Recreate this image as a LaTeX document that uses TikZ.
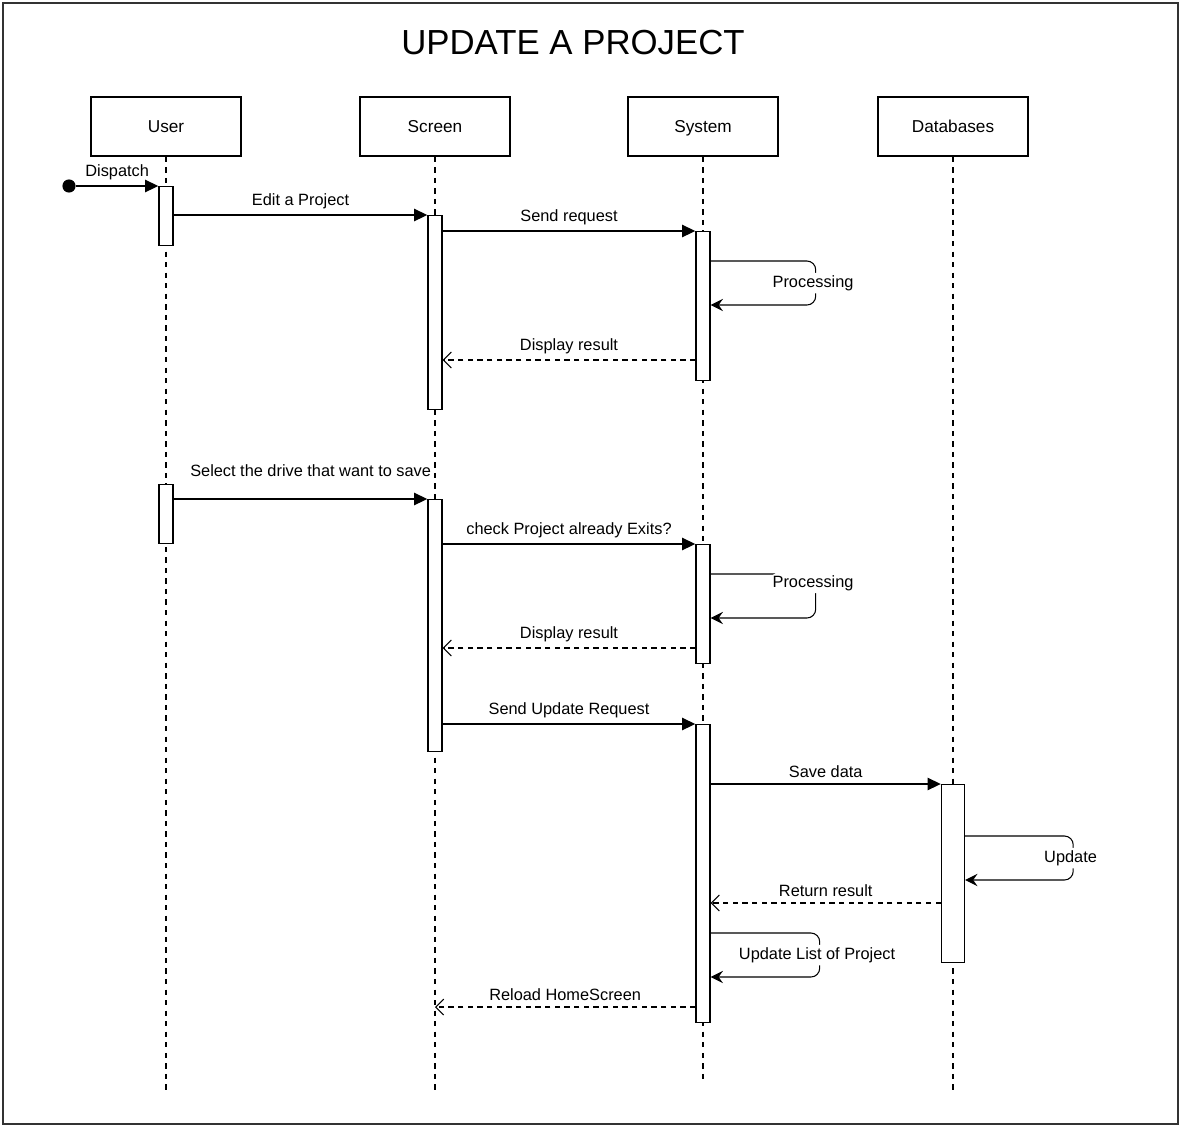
\documentclass[tikz,border=0pt]{standalone}
\usepackage{fontspec}
\setmainfont{Liberation Sans}
\usetikzlibrary{arrows.meta,calc}

\begin{document}
\begin{tikzpicture}[x=0.02cm, y=-0.02cm, font=\fontsize{9.3}{11}\selectfont]
  % Define styles
  \tikzstyle{head} = [draw, rectangle, line width=0.8pt, minimum width=3cm, minimum height=1.18cm, fill=white, text height=1.6ex, text depth=0.4ex, font=\fontsize{9.8}{12}\selectfont]
  \tikzstyle{act} = [draw, rectangle, line width=0.8pt, minimum width=0.28cm, inner sep=0pt, fill=white, anchor=north]
  \tikzstyle{life} = [line width=0.6pt, dash pattern=on 3pt off 3pt]
  \tikzstyle{msg} = [line width=0.8pt, -{Triangle[length=7.5pt, width=7pt]}]
  \tikzstyle{ret} = [line width=0.6pt, dash pattern=on 3pt off 2.5pt, -{Straight Barb[length=4.5pt, width=9pt]}]
  \tikzstyle{self} = [line width=0.6pt, rounded corners=5pt, -{Stealth[length=7pt, width=7pt, inset=2.5pt]}]
  \tikzstyle{dot} = [circle, fill=black, minimum size=7.5pt, inner sep=0pt]
  \tikzstyle{lbl} = [fill=white, inner sep=1.5pt, xshift=-1.5pt]

  \useasboundingbox (0,0) rectangle (1181,1127);
  \draw[line width=0.8pt, black!80] (3,3) rectangle (1178,1124);

  \node(title) at (573,43) {\fontsize{19.8}{24}\selectfont UPDATE A PROJECT};

  % Draw the lifelines
  \foreach \name/\x/\txt/\yend in {user/166/User/1090, screen/435/Screen/1090, system/703/System/1080, db/953/Databases/1090} {
    \node(\name)[head] at (\x,126.5) {\txt};
    \coordinate(\name end) at (\x,\yend);
    \draw[life] (\name.south) -- (\name end);
  }

  % Activations
  \node(ua1)[act, minimum height=1.18cm] at (166,186) {};
  \node(ua2)[act, minimum height=1.18cm] at (166,484) {};
  \node(sa1)[act, minimum height=3.88cm] at (435,215) {};
  \node(sa2)[act, minimum height=5.04cm] at (435,499) {};
  \node(ya1)[act, minimum height=2.98cm] at (703,231) {};
  \node(ya2)[act, minimum height=2.38cm] at (703,544) {};
  \node(ya3)[act, minimum height=5.96cm] at (703,724) {};
  \node(da1)[act, minimum width=0.46cm, minimum height=3.56cm] at (953,784) {};

  % Messages
  \node(start)[dot] at (69,186) {};
  \draw[msg] (start) -- (ua1.north west) node[midway, above] {Dispatch};
  \draw[msg] (ua1.east |- sa1.north) -- (sa1.north west) node[midway, above] {Edit a Project};
  \draw[msg] (sa1.east |- ya1.north) -- (ya1.north west) node[midway, above] {Send request};
  \draw[self] ($(ya1.north east)+(0,30)$) -- ++(105,0) -- ++(0,44) node[midway, lbl] {Processing} -- ++(-105,0);
  \coordinate(r1) at ($(ya1.north west)+(0,129)$);
  \draw[ret] (r1) -- (sa1.east |- r1) node[midway, above] {Display result};

  \draw[msg] (ua2.east |- sa2.north) -- (sa2.north west) node[pos=0.54, above=9pt] {Select the drive that want to save};
  \draw[msg] (sa2.east |- ya2.north) -- (ya2.north west) node[midway, above] {check Project already Exits?};
  \draw[self] ($(ya2.north east)+(0,30)$) -- ++(105,0) -- ++(0,44) node[pos=0.2, lbl] {Processing} -- ++(-105,0);
  \coordinate(r2) at ($(ya2.north west)+(0,104)$);
  \draw[ret] (r2) -- (sa2.east |- r2) node[midway, above] {Display result};

  \draw[msg] (sa2.east |- ya3.north) -- (ya3.north west) node[midway, above] {Send Update Request};
  \draw[msg] (ya3.east |- da1.north) -- (da1.north west) node[midway, above] {Save data};
  \draw[self] ($(da1.north east)+(0,52)$) -- ++(108,0) -- ++(0,44) node[midway, lbl] {Update} -- ++(-108,0);
  \coordinate(r3) at ($(da1.north west)+(0,119)$);
  \draw[ret] (r3) -- (ya3.east |- r3) node[midway, above] {Return result};
  \draw[self] ($(ya3.north east)+(0,209)$) -- ++(109,0) -- ++(0,44) node[midway, lbl] {Update List of Project} -- ++(-109,0);
  \coordinate(r4) at ($(ya3.north west)+(0,283)$);
  \draw[ret] (r4) -- (screen.south |- r4) node[midway, above] {Reload HomeScreen};
\end{tikzpicture}
\end{document}
